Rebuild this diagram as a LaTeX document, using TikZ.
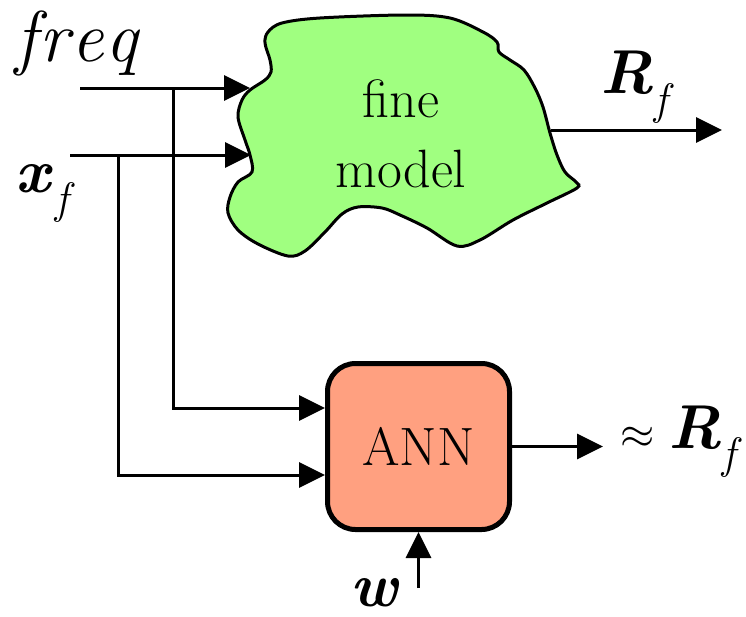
\documentclass[tikz,border=0pt]{standalone}
\usetikzlibrary{arrows.meta}
\definecolor{blobgreen}{RGB}{160,255,128}
\definecolor{annfill}{RGB}{255,160,128}
\newcommand{\bigapprox}{{\fontsize{10}{12}\selectfont\scalebox{4.4}{$\approx$}}}
\tikzset{
  conn/.style={line width=3pt},
  arr/.style={conn, -{Triangle[length=26pt,width=25pt]}},
  lbl/.style={inner sep=0pt, outer sep=0pt},
  annbox/.style={draw, fill=annfill, line width=5pt, rounded corners=28pt,
    minimum width=182pt, minimum height=166pt, inner sep=0pt,
    font=\rmfamily\fontsize{54}{66}\selectfont},
  blobtext/.style={inner sep=0pt, align=center, font=\rmfamily\fontsize{54}{70}\selectfont},
}
\begin{document}
\begin{tikzpicture}[x=1pt,y=-1pt]
\useasboundingbox (0,0) rectangle (746,616);
% fine model blob
\filldraw[fill=blobgreen, line width=3pt] plot[smooth cycle, tension=0.55] coordinates {
 (268,32) (282,23) (320,18) (405,15) (450,18) (483,32) (497,42) (499,52) (510,60)
 (524,70) (535,88) (543,107) (550,133) (557,155) (565,172) (576,182) (577,188)
 (547,203) (513,220) (480,240) (457,246) (427,228) (400,215) (382,208) (358,207)
 (342,214) (325,232) (305,251) (288,256) (258,244) (238,230) (228,213) (230,197)
 (238,182) (252,172) (250,155) (245,140) (238,117) (242,100) (250,90) (265,80)
 (271,72) (270,60) (265,43)};
\node[blobtext] (fine) at (401,134) {fine\\model};
% ANN
\node[annbox] (ann) at (418.5,446.5) {ANN};
% coordinates
\coordinate (fqS) at (80,88);
\coordinate (fqE) at (250,88);
\coordinate (xS) at (70,155);
\coordinate (xE) at (251,155);
\coordinate (fqJ) at (173,88);
\coordinate (xJ) at (118,155);
\coordinate (blobOut) at (551,130);
\coordinate (RfE) at (722,130);
\coordinate (annOut) at (603,446.5);
\coordinate (wS) at (418.5,588);
% connectors
\draw[arr] (fqS) -- (fqE);
\draw[arr] (xS) -- (xE);
\draw[arr] (fqJ) |- ([yshift=38.5pt]ann.west);
\draw[arr] (xJ) |- ([yshift=-28.5pt]ann.west);
\draw[arr] (blobOut) -- (RfE);
\draw[arr] (ann.east) -- (annOut);
\draw[arr] (wS) -- (ann.south);
% labels
\node[lbl, anchor=base west] (freq) at (16,61) {\rmfamily\fontsize{72}{80}\selectfont\itshape f\kern2pt r\kern2pt e\kern2pt q};
\node[lbl, anchor=base west] (xf) at (15,192) {\rmfamily\fontsize{62}{72}\selectfont\bfseries\itshape x\hspace{6pt}\raisebox{-21pt}{\fontsize{44}{50}\selectfont\mdseries\itshape f}};
\node[lbl, anchor=base west] (Rf) at (600,93) {\rmfamily\fontsize{62}{72}\selectfont\bfseries\itshape R\hspace{1pt}\raisebox{-21pt}{\fontsize{44}{50}\selectfont\mdseries\itshape f}};
\node[lbl, anchor=base west] (aRf) at (620,448) {\rmfamily\fontsize{62}{72}\selectfont\bigapprox\hspace{14pt}{\bfseries\itshape R}\hspace{1pt}\raisebox{-20pt}{\fontsize{44}{50}\selectfont\itshape f}};
\node[lbl, anchor=base west] (w) at (350,606) {\rmfamily\fontsize{62}{72}\selectfont\bfseries\itshape w};
\end{tikzpicture}
\end{document}
